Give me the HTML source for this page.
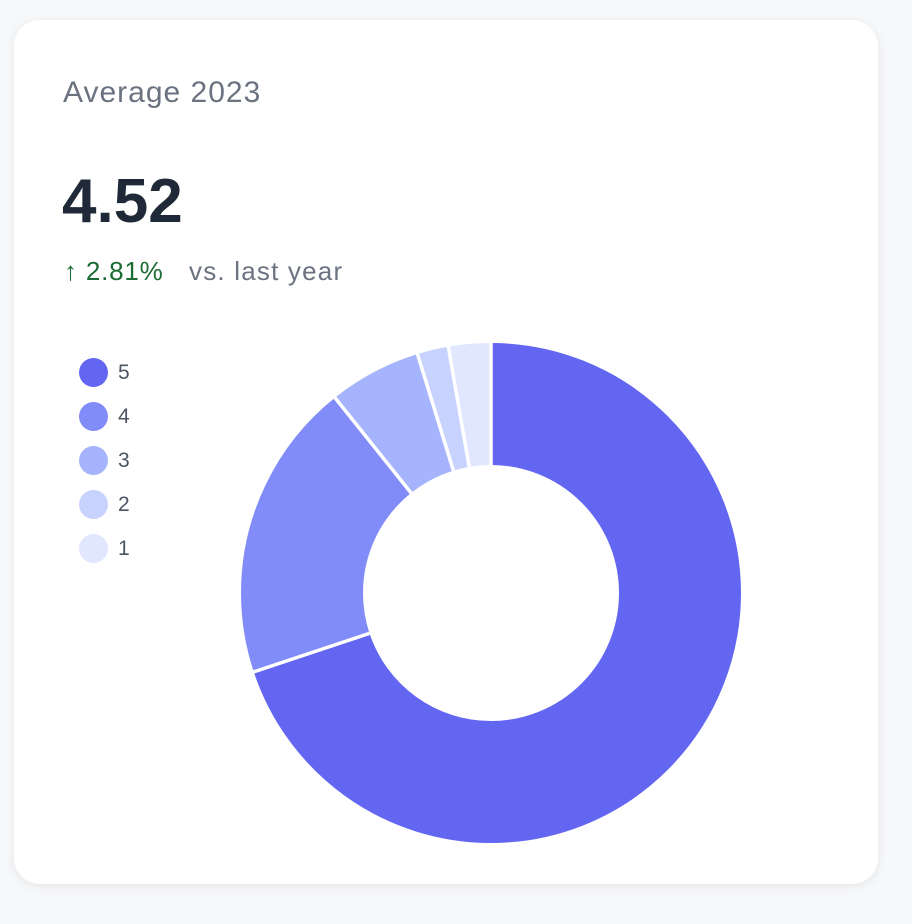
<!DOCTYPE html>
<html><head><meta charset="utf-8"><style>
html,body{margin:0;padding:0;}
body{width:912px;height:924px;background:#f7f8fa;position:relative;overflow:hidden;font-family:"Liberation Sans",sans-serif;}
.card{position:absolute;left:14px;top:20px;width:864px;height:864px;background:#fff;border-radius:26px;box-shadow:0 2px 10px rgba(0,0,0,0.08);}
.t{position:absolute;white-space:nowrap;}
.leg{position:absolute;left:79px;width:29px;height:29px;border-radius:50%;}
.ll{position:absolute;left:118px;font-size:21px;color:#4b5563;}
</style></head><body>
<div class="card"></div>
<div class="t" style="left:63px;top:76px;font-size:30px;letter-spacing:1px;color:#6b7280;">Average 2023</div>
<div class="t" style="left:62px;top:166px;font-size:62px;font-weight:bold;color:#1f2937;">4.52</div>
<div class="t" style="left:64px;top:256px;font-size:26px;letter-spacing:0.8px;color:#1b6b34;"><b>↑</b> 2.81%</div>
<div class="t" style="left:189px;top:256px;font-size:26px;letter-spacing:1.2px;color:#6b7280;">vs. last year</div>
<div class="leg" style="top:358px;background:#6366f1"></div><div class="ll" style="top:361px">5</div>
<div class="leg" style="top:402px;background:#818cf8"></div><div class="ll" style="top:405px">4</div>
<div class="leg" style="top:446px;background:#a5b4fc"></div><div class="ll" style="top:449px">3</div>
<div class="leg" style="top:490px;background:#c7d2fe"></div><div class="ll" style="top:493px">2</div>
<div class="leg" style="top:534px;background:#e0e7ff"></div><div class="ll" style="top:537px">1</div>
<svg style="position:absolute;left:0;top:0" width="912" height="924">
<g transform="rotate(-90 491 593)" fill="none" stroke-width="122">
<circle cx="491" cy="593" r="189" stroke="#6366f1" stroke-dasharray="830 1187.5" stroke-dashoffset="0"/>
<circle cx="491" cy="593" r="189" stroke="#818cf8" stroke-dasharray="230.2 1187.5" stroke-dashoffset="-830"/>
<circle cx="491" cy="593" r="189" stroke="#a5b4fc" stroke-dasharray="70.9 1187.5" stroke-dashoffset="-1060.2"/>
<circle cx="491" cy="593" r="189" stroke="#c7d2fe" stroke-dasharray="24.1 1187.5" stroke-dashoffset="-1131.1"/>
<circle cx="491" cy="593" r="189" stroke="#e0e7ff" stroke-dasharray="32.4 1187.5" stroke-dashoffset="-1155.2"/>
</g>
<g stroke="#fff" stroke-width="3.5">
<line x1="491" y1="466" x2="491" y2="341"/>
<line x1="369.5" y1="633.4" x2="252" y2="672.5"/>
<line x1="411.1" y1="493" x2="334" y2="396.5"/>
<line x1="453.4" y1="470.7" x2="417" y2="352.5"/>
<line x1="469.2" y1="466.9" x2="448" y2="345"/>
</g>
</svg>
</body></html>
